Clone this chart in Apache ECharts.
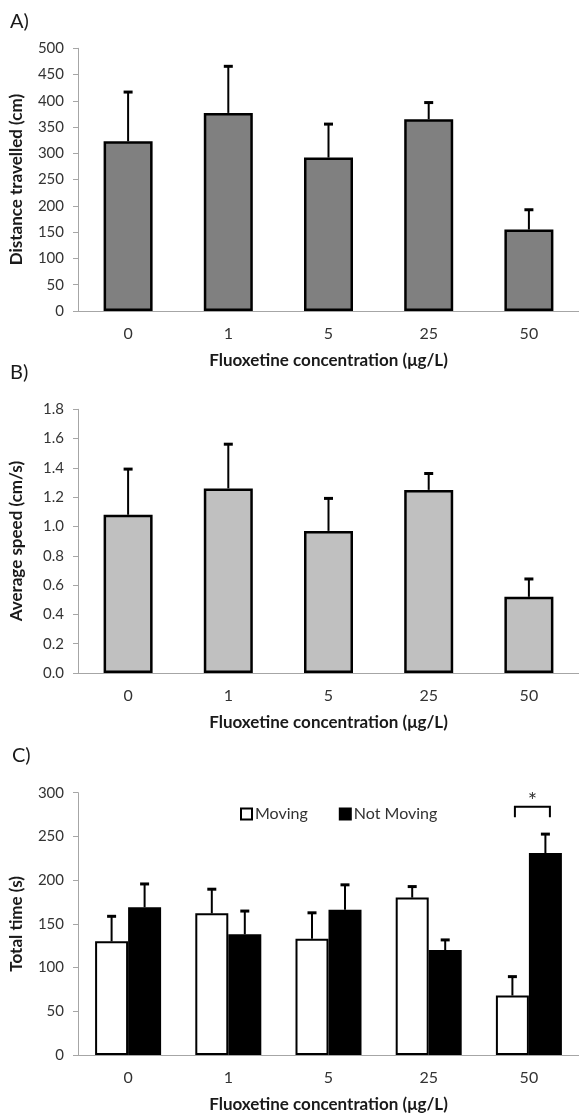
<!DOCTYPE html>
<html>
<head>
<meta charset="utf-8">
<script src="https://cdn.jsdelivr.net/npm/echarts@6/dist/echarts.min.js"></script>
<style>
html,body{margin:0;padding:0;background:#fff;}
#c{width:579px;height:1117px;}
</style>
</head>
<body>
<div id="c"></div>
<script>
// ---- data ----
var categories = ['0', '1', '5', '25', '50'];
var distance = [323, 377, 292, 365, 155];
var distanceErrTop = [419, 468, 358, 399, 195];
var speed = [1.08, 1.26, 0.97, 1.25, 0.52];
var speedErrTop = [1.40, 1.57, 1.20, 1.37, 0.65];
var moving = [130, 162, 133, 180, 68];
var movingErrTop = [160, 191, 164, 194, 91];
var notMoving = [169, 138, 166, 120, 231];
var notMovingErrTop = [197, 166, 196, 133, 254];
var distanceTicks = {min: 0, max: 500, interval: 50};
var speedTicks = {min: 0, max: 1.8, interval: 0.2};
var timeTicks = {min: 0, max: 300, interval: 50};
var significance = [{cat: 4, low: 272, high: 284, label: '*'}];

var FONT = 'Lato, "Open Sans", "DejaVu Sans", sans-serif';
var TICK_COLOR = '#333';
var TITLE_COLOR = '#1a1a1a';
var AXIS_COLOR = '#a6a6a6';

var chart = echarts.init(document.getElementById('c'), null, {renderer: 'canvas'});

function errData(vals, tops) {
  return vals.map(function (v, i) { return [i, v, tops[i]]; });
}

function errSeries(gridIdx, vals, tops, offset) {
  return {
    type: 'custom',
    xAxisIndex: gridIdx, yAxisIndex: gridIdx,
    z: 5,
    silent: true,
    data: errData(vals, tops),
    renderItem: function (params, api) {
      var p0 = api.coord([api.value(0), api.value(1)]);
      var p1 = api.coord([api.value(0), api.value(2)]);
      var x = p0[0] + offset;
      return {
        type: 'group',
        children: [
          {type: 'line', shape: {x1: x, y1: p0[1], x2: x, y2: p1[1] + 1},
           style: {stroke: '#000', lineWidth: 2}},
          {type: 'line', shape: {x1: x - 4.5, y1: p1[1] + 1.2, x2: x + 4.5, y2: p1[1] + 1.2},
           style: {stroke: '#000', lineWidth: 3}}
        ]
      };
    }
  };
}

var GRID_LEFT = 78, GRID_W = 501.5;
var grids = [
  {left: GRID_LEFT, width: GRID_W, top: 48.3, height: 262.7},
  {left: GRID_LEFT, width: GRID_W, top: 409.3, height: 263.7},
  {left: GRID_LEFT, width: GRID_W, top: 792.7, height: 262.3}
];

function xAx(gi) {
  return {
    type: 'category', gridIndex: gi, data: categories,
    axisLine: {show: true, lineStyle: {color: AXIS_COLOR, width: 1}},
    axisTick: {show: false},
    axisLabel: {color: TICK_COLOR, fontFamily: FONT, fontSize: 16, margin: 15},
    splitLine: {show: false},
    name: 'Fluoxetine concentration (\u03bcg/L)',
    nameLocation: 'middle',
    nameGap: 41,
    nameTextStyle: {color: TITLE_COLOR, fontFamily: FONT, fontSize: 17, fontWeight: 'bold'}
  };
}

function yAx(gi, ticks, name, fmt) {
  return {
    type: 'value', gridIndex: gi,
    min: ticks.min, max: ticks.max, interval: ticks.interval,
    axisLine: {show: true, lineStyle: {color: AXIS_COLOR, width: 1}},
    axisTick: {show: true, length: 5, lineStyle: {color: AXIS_COLOR}},
    axisLabel: {color: TICK_COLOR, fontFamily: FONT, fontSize: 15, margin: 14,
                formatter: fmt || function (v) { return String(v); }},
    splitLine: {show: false},
    name: name,
    nameLocation: 'middle',
    nameGap: 52.5,
    nameRotate: 90,
    nameTextStyle: {color: TITLE_COLOR, fontFamily: FONT, fontSize: 17, fontWeight: 'bold'}
  };
}

var C_BAR = 33;

var option = {
  animation: false,
  backgroundColor: '#fff',
  textStyle: {fontFamily: FONT},
  grid: grids,
  xAxis: [xAx(0), xAx(1), xAx(2)],
  yAxis: [
    yAx(0, distanceTicks, 'Distance travelled (cm)'),
    yAx(1, speedTicks, 'Average speed (cm/s)', function (v) { return v.toFixed(1); }),
    yAx(2, timeTicks, 'Total time (s)')
  ],
  legend: {
    data: ['Moving', 'Not Moving'],
    left: 235, top: 801,
    itemWidth: 11, itemHeight: 11, itemGap: 31,
    icon: 'rect',
    textStyle: {color: TICK_COLOR, fontFamily: FONT, fontSize: 16, padding: [0, 0, 0, -2]},
    selectedMode: false
  },
  graphic: [
    {type: 'text', left: 10, top: 12, style: {text: 'A)', font: '20px ' + FONT, fill: TITLE_COLOR}},
    {type: 'text', left: 10, top: 363, style: {text: 'B)', font: '20px ' + FONT, fill: TITLE_COLOR}},
    {type: 'text', left: 12, top: 746, style: {text: 'C)', font: '20px ' + FONT, fill: TITLE_COLOR}}
  ],
  series: [
    {type: 'bar', name: 'Distance', xAxisIndex: 0, yAxisIndex: 0, data: distance, barWidth: 49,
     itemStyle: {color: '#808080', borderColor: '#000', borderWidth: 2.5}},
    errSeries(0, distance, distanceErrTop, 0),
    {type: 'bar', name: 'Speed', xAxisIndex: 1, yAxisIndex: 1, data: speed, barWidth: 49,
     itemStyle: {color: '#c0c0c0', borderColor: '#000', borderWidth: 2.5}},
    errSeries(1, speed, speedErrTop, 0),
    {type: 'bar', name: 'Moving', xAxisIndex: 2, yAxisIndex: 2, data: moving, barWidth: C_BAR, barGap: '0%',
     itemStyle: {color: '#ffffff', borderColor: '#000', borderWidth: 2}},
    {type: 'bar', name: 'Not Moving', xAxisIndex: 2, yAxisIndex: 2, data: notMoving, barWidth: C_BAR, barGap: '0%',
     itemStyle: {color: '#000000', borderColor: '#000', borderWidth: 2}},
    errSeries(2, moving, movingErrTop, -C_BAR / 2),
    errSeries(2, notMoving, notMovingErrTop, C_BAR / 2),
    {
      type: 'custom', xAxisIndex: 2, yAxisIndex: 2, z: 6, silent: true,
      data: significance.map(function (s) { return [s.cat, s.low, s.high]; }),
      renderItem: function (params, api) {
        var pl = api.coord([api.value(0), api.value(1)]);
        var ph = api.coord([api.value(0), api.value(2)]);
        var xl = pl[0] - 14, xr = pl[0] + 21;
        return {
          type: 'group',
          children: [
            {type: 'polyline', shape: {points: [[xl, pl[1]], [xl, ph[1]], [xr, ph[1]], [xr, pl[1]]]},
             style: {stroke: '#000', lineWidth: 2, fill: null}},
            {type: 'text', style: {text: significance[params.dataIndex].label, x: (xl + xr) / 2, y: ph[1] - 6,
             textAlign: 'center', textVerticalAlign: 'middle', font: '22px ' + FONT, fill: '#333'}}
          ]
        };
      }
    }
  ]
};
chart.setOption(option);
</script>
</body>
</html>
